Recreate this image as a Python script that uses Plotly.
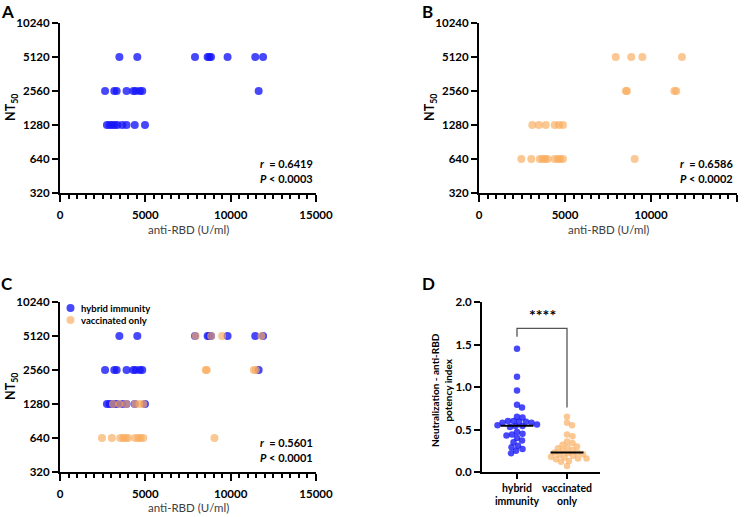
import numpy as np
import plotly.graph_objects as go

# ---------------- data ----------------
# hybrid immunity: anti-RBD (U/ml) vs NT50
hyb_rbd = [3480, 4530, 7910, 8650, 8750, 8850, 9820, 11440, 11900,
           2640, 3180, 3320, 3900, 4300, 4430, 4680, 4820, 11640,
           2750, 2900, 3050, 3200, 3360, 3650, 3900, 4380, 4980]
hyb_nt50 = [5120] * 9 + [2560] * 9 + [1280] * 9

# vaccinated only
vac_rbd = [7950, 8850, 9500, 11800,
           8540, 8600, 11360, 11470,
           3100, 3480, 3880, 4400, 4650, 4880,
           2460, 3040, 3530, 3700, 3850, 3990, 4400, 4580, 4720, 4880, 9050]
vac_nt50 = [5120] * 4 + [2560] * 4 + [1280] * 6 + [640] * 11

# potency index (panel D)
pot_hybrid = [1.45, 1.12, 0.96, 0.79, 0.76, 0.65, 0.64, 0.60, 0.60, 0.59,
              0.59, 0.58, 0.58, 0.56, 0.55, 0.54, 0.54, 0.53, 0.47, 0.45,
              0.44, 0.43, 0.40, 0.37, 0.35, 0.31, 0.29, 0.27, 0.25, 0.22]
pot_vacc = [0.65, 0.58, 0.55, 0.44, 0.42, 0.36, 0.34, 0.32, 0.30, 0.29,
            0.28, 0.26, 0.25, 0.23, 0.23, 0.22, 0.21, 0.20, 0.19, 0.18,
            0.17, 0.16, 0.16, 0.15, 0.13, 0.12, 0.07]
groups = ["hybrid<br>immunity", "vaccinated<br>only"]
series_names = ["hybrid immunity", "vaccinated only"]

nt50_ticks = [320, 640, 1280, 2560, 5120, 10240]
rbd_ticks = [0, 5000, 10000, 15000]
pot_ticks = [0.0, 0.5, 1.0, 1.5, 2.0]

stats = {"A": ("0.6419", "0.0003"), "B": ("0.6586", "0.0002"), "C": ("0.5601", "0.0001")}

# ---------------- style ----------------
W, H = 753, 517
BLUE = "rgba(20,20,250,0.78)"
ORANGE = "rgba(249,170,90,0.65)"
FONT = "Lato"


def px(x):
    return x / W


def py(y):
    return 1 - y / H


def beeswarm(vals, ppx=50.0, ppy=85.0, diam=5.4):
    vals = np.asarray(vals, float)
    order = np.argsort(-vals)
    placed = []
    offs = np.zeros(len(vals))
    cands = [0.0]
    for k in range(1, 80):
        cands += [k * 0.5, -k * 0.5]
    for i in order:
        yv = vals[i] * ppy
        for c in cands:
            if all((c - a) ** 2 + (yv - b) ** 2 >= diam ** 2 for a, b in placed):
                break
        placed.append((c, yv))
        offs[i] = c / ppx
    return offs


fig = go.Figure()

# Panel A
fig.add_trace(go.Scatter(x=hyb_rbd, y=hyb_nt50, mode="markers", xaxis="x", yaxis="y",
                         marker=dict(size=8, color=BLUE), showlegend=False))
# Panel B
fig.add_trace(go.Scatter(x=vac_rbd, y=vac_nt50, mode="markers", xaxis="x2", yaxis="y2",
                         marker=dict(size=8, color=ORANGE), showlegend=False))
# Panel C
fig.add_trace(go.Scatter(x=hyb_rbd, y=hyb_nt50, mode="markers", xaxis="x3", yaxis="y3",
                         marker=dict(size=8, color=BLUE), name=series_names[0],
                         showlegend=False))
fig.add_trace(go.Scatter(x=vac_rbd, y=vac_nt50, mode="markers", xaxis="x3", yaxis="y3",
                         marker=dict(size=8, color=ORANGE), name=series_names[1],
                         showlegend=False))

# Panel D
for gi, (vals, col) in enumerate([(pot_hybrid, BLUE), (pot_vacc, ORANGE)]):
    offs = beeswarm(vals)
    fig.add_trace(go.Scatter(x=gi + offs, y=vals, mode="markers", xaxis="x4", yaxis="y4",
                             marker=dict(size=6.5, color=col), showlegend=False,
                             name=series_names[gi]))
    med = float(np.median(vals))
    fig.add_trace(go.Scatter(x=[gi - 0.33, gi + 0.33], y=[med, med], mode="lines",
                             xaxis="x4", yaxis="y4", line=dict(color="black", width=2),
                             showlegend=False, hoverinfo="skip"))

# significance bracket
yl = max(pot_hybrid) + 0.14
yt = yl + 0.10
yr = max(pot_vacc) + 0.11
fig.add_shape(type="path", xref="x4", yref="y4",
              path=f"M 0 {yl} L 0 {yt} L 1 {yt} L 1 {yr}",
              line=dict(color="#555555", width=1.3))
fig.add_annotation(x=0.5, y=yt + 0.03, xref="x4", yref="y4", text="<b>****</b>",
                   showarrow=False, yanchor="bottom", xanchor="center",
                   font=dict(family=FONT, size=16, color="black"))

tickfont = dict(family=FONT, size=11.5, color="black", weight="bold")


def rbd_axis(domain, anchor):
    return dict(domain=domain, anchor=anchor, range=[0, 15000], tickvals=rbd_ticks,
                ticktext=[str(t) for t in rbd_ticks], automargin=False, tickangle=0,
                ticks="outside", ticklen=7, tickwidth=1.5, tickcolor="black",
                showline=True, linewidth=2, linecolor="black", showgrid=False,
                zeroline=False, tickfont=tickfont, ticklabelstandoff=3,
                minor=dict(dtick=500, tick0=0, ticks="outside", ticklen=4,
                           tickwidth=1.5, tickcolor="black", showgrid=False))


def nt_axis(domain, anchor):
    return dict(domain=domain, anchor=anchor, type="log", automargin=False,
                range=[np.log10(320), np.log10(10240)], tickvals=nt50_ticks,
                ticktext=[str(t) for t in nt50_ticks],
                ticks="outside", ticklen=6, tickwidth=1.5, tickcolor="black",
                showline=True, linewidth=2, linecolor="black", showgrid=False,
                zeroline=False, tickfont=tickfont)


xa = [px(60), px(316)]
xb = [px(479), px(737)]
ytop = [py(193), py(23)]
ybot = [py(472), py(302)]

fig.update_layout(
    width=W, height=H, margin=dict(l=0, r=0, t=0, b=0, autoexpand=False),
    paper_bgcolor="white", plot_bgcolor="white",
    font=dict(family=FONT, color="black"),
    showlegend=False,
    xaxis=rbd_axis(xa, "y"), yaxis=nt_axis(ytop, "x"),
    xaxis2=rbd_axis(xb, "y2"), yaxis2=nt_axis(ytop, "x2"),
    xaxis3=rbd_axis(xa, "y3"), yaxis3=nt_axis(ybot, "x3"),
    xaxis4=dict(domain=[px(482), px(600)], anchor="y4", range=[-0.7, 1.66],
                automargin=False, tickangle=0,
                tickvals=[0, 1], ticktext=groups, ticks="outside", ticklen=5,
                tickwidth=1.5, tickcolor="black", showline=True, linewidth=2,
                linecolor="black", showgrid=False, zeroline=False,
                tickfont=dict(family=FONT, size=10.5, color="black", weight="bold")),
    yaxis4=dict(domain=ybot, anchor="x4", range=[0, 2], tickvals=pot_ticks,
                automargin=False,
                tickformat=".1f", ticks="outside", ticklen=6, tickwidth=1.5,
                tickcolor="black", showline=True, linewidth=2, linecolor="black",
                showgrid=False, zeroline=False, tickfont=tickfont),
)

# legend of panel C (swatches + labels)
for i, (nm, col) in enumerate(zip(series_names, [BLUE, ORANGE])):
    cy = 308 + 12 * i
    fig.add_shape(type="circle", xref="paper", yref="paper",
                  x0=px(66.5), x1=px(74.5), y0=py(cy + 4), y1=py(cy - 4),
                  fillcolor=col, line=dict(width=0))
    fig.add_annotation(x=px(79), y=py(cy), xref="paper", yref="paper", text=f"<b>{nm}</b>",
                       xanchor="left", yanchor="middle", showarrow=False,
                       font=dict(family=FONT, size=9.5, color="black"))

ann = []
# panel letters
for lab, x, y in [("A", 8, 11), ("B", 427, 11), ("C", 7, 283), ("D", 428, 283)]:
    ann.append(dict(x=px(x), y=py(y), text=f"<b>{lab}</b>",
                    font=dict(family=FONT, size=17, color="black")))
# axis titles
for xc, yc in [(188, 230), (608, 230), (188, 508)]:
    ann.append(dict(x=px(xc), y=py(yc), text="anti-RBD (U/ml)",
                    font=dict(family=FONT, size=11.5, color="#404040")))
for xc, yc in [(11, 108), (430, 108), (11, 387)]:
    ann.append(dict(x=px(xc), y=py(yc), text="<b>NT<sub>50</sub></b>", textangle=-90,
                    font=dict(family=FONT, size=12.5, color="black")))
ann.append(dict(x=px(441), y=py(390),
                text="<b>Neutralization - anti-RBD<br>potency index</b>", textangle=-90,
                font=dict(family=FONT, size=10, color="black")))
# statistics
for lab, (xl, yr_) in {"A": (258, 163), "B": (678, 163), "C": (258, 442)}.items():
    r, p = stats[lab]
    ann.append(dict(x=px(xl), y=py(yr_), xanchor="left",
                    text=f"<b><i>r</i>  = {r}</b>",
                    font=dict(family=FONT, size=11, color="black")))
    ann.append(dict(x=px(xl), y=py(yr_ + 15), xanchor="left",
                    text=f"<b><i>P</i> < {p}</b>",
                    font=dict(family=FONT, size=11, color="black")))
for a in ann:
    a.setdefault("xanchor", "center")
    a.setdefault("yanchor", "middle")
    fig.add_annotation(xref="paper", yref="paper", showarrow=False, **a)

fig.write_html("out.html")
